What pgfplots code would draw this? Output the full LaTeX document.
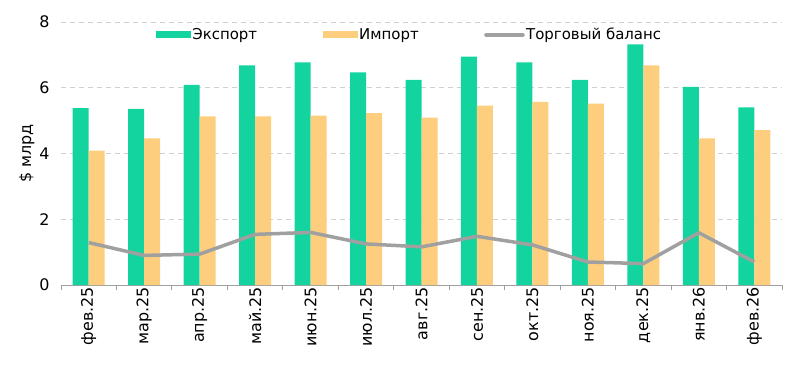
\documentclass[border=0pt]{standalone}
\usepackage{pgfplots}
\pgfplotsset{compat=1.18}
\usepackage{fontspec}
\setmainfont{DejaVu Sans}
\definecolor{expcol}{HTML}{13D49E}
\definecolor{impcol}{HTML}{FDCE7E}
\definecolor{balcol}{HTML}{A0A0A0}
\definecolor{gridcol}{HTML}{D0D0D0}
\begin{document}
\begin{tikzpicture}
\path[use as bounding box] (-61bp,-81bp) rectangle (739bp,285bp);
\begin{axis}[
  at={(0,0)}, anchor=south west,
  scale only axis, width=721bp, height=263bp,
  font=\fontsize{16}{18}\selectfont,
  /pgf/number format/assume math mode=true,
  xmin=-0.5, xmax=12.5, ymin=0, ymax=8,
  ytick={0,2,4,6,8},
  xtick={0,...,12},
  xticklabels={фев.25,мар.25,апр.25,май.25,июн.25,июл.25,авг.25,сен.25,окт.25,ноя.25,дек.25,янв.26,фев.26},
  xticklabel style={rotate=90, anchor=east, inner sep=2bp},
  minor xtick={-0.5,0.5,...,12.5},
  major tick length=0pt,
  minor tick length=5bp,
  tick align=outside,
  minor tick style={draw=balcol, line width=1bp},
  axis x line*=bottom, axis y line*=left,
  x axis line style={draw=balcol, line width=1bp},
  y axis line style={draw=none},
  ymajorgrids,
  grid style={gridcol, dash pattern=on 5bp off 4bp, line width=1bp},
  yticklabel style={xshift=-8bp},
  ylabel={\$ млрд},
  ylabel style={yshift=-2bp},
  legend style={draw=none, fill=none, at={(0.483,0.951)}, anchor=center,
    font=\fontsize{15}{17}\selectfont,
    legend columns=3, nodes={inner sep=1.5bp},
    /tikz/every even column/.append style={column sep=64bp}},
  clip=false,
]
\addplot[ybar, bar width=16bp, bar shift=-8bp, fill=expcol, draw=none,
  legend image code/.code={\fill[expcol] (0bp,-3.5bp) rectangle (35bp,3.5bp);}]
  coordinates {(0,5.38) (1,5.36) (2,6.09) (3,6.68) (4,6.77) (5,6.47) (6,6.24) (7,6.95) (8,6.77) (9,6.24) (10,7.32) (11,6.03) (12,5.40)};
\addlegendentry{Экспорт}
\addplot[ybar, bar width=16bp, bar shift=8bp, fill=impcol, draw=none,
  legend image code/.code={\fill[impcol] (0bp,-3.5bp) rectangle (35bp,3.5bp);}]
  coordinates {(0,4.09) (1,4.46) (2,5.13) (3,5.13) (4,5.15) (5,5.23) (6,5.09) (7,5.46) (8,5.57) (9,5.52) (10,6.68) (11,4.46) (12,4.71)};
\addlegendentry{Импорт}
\addplot[sharp plot, balcol, line width=3.5bp, no markers,
  legend image code/.code={\draw[balcol, line width=3.5bp, line cap=round] (0bp,0bp) -- (37bp,0bp);}]
  coordinates {(0,1.29) (1,0.90) (2,0.94) (3,1.54) (4,1.60) (5,1.25) (6,1.16) (7,1.48) (8,1.22) (9,0.70) (10,0.65) (11,1.59) (12,0.70)};
\addlegendentry{Торговый баланс}
\end{axis}
\end{tikzpicture}
\end{document}
